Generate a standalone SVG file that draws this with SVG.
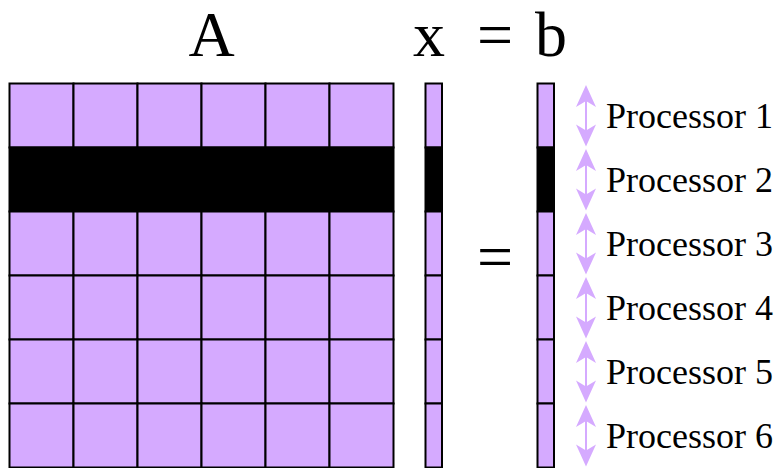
<svg xmlns="http://www.w3.org/2000/svg" width="782" height="468" viewBox="0 0 782 468">
<style>
.cell{fill:#d5aaff;stroke:#000;stroke-width:2}
.blk{fill:#000;stroke:#000;stroke-width:2}
.big{font-family:"Liberation Serif",serif;font-size:64px;fill:#000;text-anchor:middle}
.lbl{font-family:"Liberation Serif",serif;font-size:36px;fill:#000}
.arr{stroke:#d5aaff;stroke-width:2;fill:none}
.head{fill:#d5aaff}
</style>
<defs>
<path id="hd" class="head" d="M0,0 L10,22 L0,16 L-10,22 Z"/>
<g id="darr">
<line class="arr" x1="0" y1="10" x2="0" y2="53"/>
<use href="#hd" x="0" y="1.5"/>
<use href="#hd" transform="translate(0,63) scale(1,-1)"/>
</g>
</defs>
<rect width="782" height="468" fill="#fff"/>
<g id="labels">
<text class="big" x="211.5" y="56">A</text>
<text class="big" x="429" y="56">x</text>
<text class="big" x="495" y="56">=</text>
<text class="big" x="551" y="56">b</text>
<text class="big" x="495" y="278">=</text>
</g>
<g id="matrixA">
<rect class="cell" x="9.5" y="83.5" width="64" height="64"/>
<rect class="cell" x="73.5" y="83.5" width="64" height="64"/>
<rect class="cell" x="137.5" y="83.5" width="64" height="64"/>
<rect class="cell" x="201.5" y="83.5" width="64" height="64"/>
<rect class="cell" x="265.5" y="83.5" width="64" height="64"/>
<rect class="cell" x="329.5" y="83.5" width="64" height="64"/>
<rect class="blk" x="9.5" y="147.5" width="384" height="64"/>
<rect class="cell" x="9.5" y="211.5" width="64" height="64"/>
<rect class="cell" x="73.5" y="211.5" width="64" height="64"/>
<rect class="cell" x="137.5" y="211.5" width="64" height="64"/>
<rect class="cell" x="201.5" y="211.5" width="64" height="64"/>
<rect class="cell" x="265.5" y="211.5" width="64" height="64"/>
<rect class="cell" x="329.5" y="211.5" width="64" height="64"/>
<rect class="cell" x="9.5" y="275.5" width="64" height="64"/>
<rect class="cell" x="73.5" y="275.5" width="64" height="64"/>
<rect class="cell" x="137.5" y="275.5" width="64" height="64"/>
<rect class="cell" x="201.5" y="275.5" width="64" height="64"/>
<rect class="cell" x="265.5" y="275.5" width="64" height="64"/>
<rect class="cell" x="329.5" y="275.5" width="64" height="64"/>
<rect class="cell" x="9.5" y="339.5" width="64" height="64"/>
<rect class="cell" x="73.5" y="339.5" width="64" height="64"/>
<rect class="cell" x="137.5" y="339.5" width="64" height="64"/>
<rect class="cell" x="201.5" y="339.5" width="64" height="64"/>
<rect class="cell" x="265.5" y="339.5" width="64" height="64"/>
<rect class="cell" x="329.5" y="339.5" width="64" height="64"/>
<rect class="cell" x="9.5" y="403.5" width="64" height="64"/>
<rect class="cell" x="73.5" y="403.5" width="64" height="64"/>
<rect class="cell" x="137.5" y="403.5" width="64" height="64"/>
<rect class="cell" x="201.5" y="403.5" width="64" height="64"/>
<rect class="cell" x="265.5" y="403.5" width="64" height="64"/>
<rect class="cell" x="329.5" y="403.5" width="64" height="64"/>
</g>
<g id="vectorX">
<rect class="cell" x="425.5" y="83.5" width="16.5" height="64"/>
<rect class="blk" x="425.5" y="147.5" width="16.5" height="64"/>
<rect class="cell" x="425.5" y="211.5" width="16.5" height="64"/>
<rect class="cell" x="425.5" y="275.5" width="16.5" height="64"/>
<rect class="cell" x="425.5" y="339.5" width="16.5" height="64"/>
<rect class="cell" x="425.5" y="403.5" width="16.5" height="64"/>
</g>
<g id="vectorB">
<rect class="cell" x="537.5" y="83.5" width="16.5" height="64"/>
<rect class="blk" x="537.5" y="147.5" width="16.5" height="64"/>
<rect class="cell" x="537.5" y="211.5" width="16.5" height="64"/>
<rect class="cell" x="537.5" y="275.5" width="16.5" height="64"/>
<rect class="cell" x="537.5" y="339.5" width="16.5" height="64"/>
<rect class="cell" x="537.5" y="403.5" width="16.5" height="64"/>
</g>
<g id="connectors">
<use href="#darr" x="586" y="83.5"/>
<use href="#darr" x="586" y="147.5"/>
<use href="#darr" x="586" y="211.5"/>
<use href="#darr" x="586" y="275.5"/>
<use href="#darr" x="586" y="339.5"/>
<use href="#darr" x="586" y="403.5"/>
</g>
<g id="processors">
<text class="lbl" x="606" y="127.5">Processor 1</text>
<text class="lbl" x="606" y="191.5">Processor 2</text>
<text class="lbl" x="606" y="255.5">Processor 3</text>
<text class="lbl" x="606" y="319.5">Processor 4</text>
<text class="lbl" x="606" y="383.5">Processor 5</text>
<text class="lbl" x="606" y="447.5">Processor 6</text>
</g>
</svg>
